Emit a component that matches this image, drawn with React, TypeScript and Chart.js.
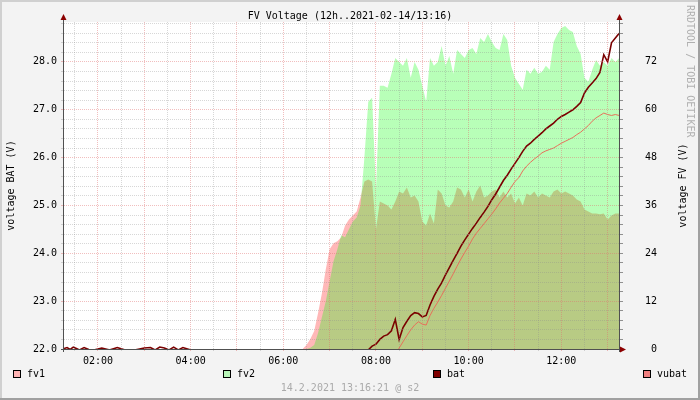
import { useEffect, useRef } from 'react';
import { Chart, registerables } from 'chart.js';

Chart.register(...registerables);

// night-time battery readings (hovering round the 22 V floor)
const nightTimes = [
  '01:16', '01:20', '01:24', '01:28', '01:32', '01:36', '01:42', '01:48', '01:55', '02:05',
  '02:15', '02:25', '02:35', '02:45', '03:00', '03:08', '03:14', '03:20', '03:26', '03:32',
  '03:38', '03:44', '03:50', '04:00', '04:20', '05:00', '05:40', '06:20',
];
const nightBat = [
  22.01, 22.03, 21.99, 22.04, 22.01, 21.98, 22.03, 21.99, 21.98, 22.02,
  21.98, 22.03, 21.98, 21.97, 22.02, 22.03, 21.98, 22.04, 22.02, 21.98,
  22.04, 21.98, 22.03, 21.98, 21.97, 21.96, 21.95, 21.95,
];

// daytime samples, 5 min apart
const times = [
  '06:25', '06:30', '06:35', '06:40', '06:45', '06:50', '06:55',
  '07:00', '07:05', '07:10', '07:15', '07:20', '07:25', '07:30', '07:35', '07:40', '07:45', '07:50', '07:55',
  '08:00', '08:05', '08:10', '08:15', '08:20', '08:25', '08:30', '08:35', '08:40', '08:45', '08:50', '08:55',
  '09:00', '09:05', '09:10', '09:15', '09:20', '09:25', '09:30', '09:35', '09:40', '09:45', '09:50', '09:55',
  '10:00', '10:05', '10:10', '10:15', '10:20', '10:25', '10:30', '10:35', '10:40', '10:45', '10:50', '10:55',
  '11:00', '11:05', '11:10', '11:15', '11:20', '11:25', '11:30', '11:35', '11:40', '11:45', '11:50', '11:55',
  '12:00', '12:05', '12:10', '12:15', '12:20', '12:25', '12:30', '12:35', '12:40', '12:45', '12:50', '12:55',
  '13:00', '13:05', '13:10', '13:15',
];
const fv1 = [
  0, 1, 2.5, 4.5, 9, 14, 20, 25, 26.5, 27, 28, 31, 32.5, 33.5, 34.5, 38, 42, 42.5, 42,
  30, 37, 36.5, 36, 35, 37, 39.5, 39, 40.5, 38, 38.5, 37, 32, 31, 34, 31.5, 40, 39, 36, 35.5,
  37, 40.5, 40, 38, 40, 37, 39.5, 41, 38, 38.5, 39.5, 40, 38, 39.5, 38, 39, 36.5, 38, 36, 39,
  38.5, 39.5, 38, 39, 38.5, 38, 39.5, 40, 39, 39.5, 39, 38.5, 37.5, 37, 35, 34.5, 34, 34, 33.8, 34,
  32.5, 33.5, 34, 34,
];
const fv2 = [
  0, 0, 0.3, 1, 4, 8, 12, 17, 22, 25, 28.5, 28, 30, 32, 33, 36, 48, 62, 63,
  40, 66, 66, 65.5, 69, 73, 72, 71, 73, 68, 72, 70, 66, 62, 73, 71, 72, 76, 71, 73.5,
  69, 75, 74, 73, 75, 75.5, 74, 78, 77, 79, 77, 75.5, 75, 79, 77.5, 71, 68, 66.5, 65, 70,
  69, 70.5, 69, 69.5, 71, 70, 77, 79, 80.5, 81, 80, 79.5, 76, 74, 68, 67, 70, 72.5, 71, 72,
  71, 73, 72, 73,
];
const bat = [
  21.95, 21.95, 21.95, 21.95, 21.95, 21.95, 21.95, 21.95, 21.95, 21.95, 21.95, 21.95, 21.95, 21.95, 21.95, 21.95, 21.95,
  21.98, 22.06, 22.1, 22.2, 22.27, 22.3, 22.38, 22.62, 22.2, 22.45, 22.58, 22.7, 22.76, 22.74, 22.67, 22.7,
  22.92, 23.1, 23.25, 23.38, 23.55, 23.7, 23.85, 24.0,
  24.15, 24.28, 24.4, 24.52, 24.63, 24.75, 24.86, 24.98, 25.12, 25.24,
  25.38, 25.52, 25.63, 25.76, 25.88, 26.0, 26.13, 26.24, 26.3, 26.38,
  26.45, 26.52, 26.6, 26.66, 26.72, 26.8, 26.86, 26.9, 26.95, 27.0,
  27.07, 27.15, 27.35, 27.47, 27.56, 27.65, 27.78, 28.15, 28.0, 28.4,
  28.5, 28.6,
];
const vubat = [
  21.9, 21.9, 21.9, 21.9, 21.9, 21.9, 21.9, 21.9, 21.9, 21.9, 21.9, 21.9, 21.9,
  21.9, 21.9, 21.9, 21.9, 21.9, 21.9, 21.9, 21.9, 21.9, 21.9, 21.9, 21.9,
  22.02, 22.15, 22.28, 22.4, 22.5, 22.57, 22.52, 22.5, 22.7, 22.85,
  22.98, 23.12, 23.27, 23.42, 23.57, 23.73, 23.88, 24.02, 24.15, 24.3,
  24.42, 24.52, 24.62, 24.72, 24.82, 24.93, 25.05, 25.15, 25.25, 25.38,
  25.5, 25.58, 25.72, 25.82, 25.9, 25.97, 26.03, 26.1, 26.14, 26.17,
  26.2, 26.25, 26.3, 26.34, 26.38, 26.42, 26.48, 26.53, 26.6, 26.67,
  26.76, 26.83, 26.88, 26.93, 26.9, 26.88, 26.9, 26.88,
];

const xTickLabels = ['02:00', '04:00', '06:00', '08:00', '10:00', '12:00'];
const yLeftLabels = ['22.0', '23.0', '24.0', '25.0', '26.0', '27.0', '28.0'];
const yRightLabels = ['0', '12', '24', '36', '48', '60', '72'];

const legendItems = [
  { label: 'fv1', color: '#ffb4b4', x: 13 },
  { label: 'fv2', color: '#b8f5b8', x: 223 },
  { label: 'bat', color: '#800000', x: 433 },
  { label: 'vubat', color: '#f08080', x: 643 },
];

const FONT = '10px "DejaVu Sans Mono", monospace';
const MAJOR = 'rgba(225, 110, 110, 0.45)';
const MINOR = 'rgba(140, 140, 140, 0.35)';
const toHours = (t: string) => {
  const [h, m] = t.split(':').map(Number);
  return h + m / 60;
};
const near = (a: number, b: number) => Math.abs(a - b) < 1e-6;

const rrdPlugin = {
  id: 'rrdDecor',
  beforeDraw(chart: Chart) {
    const { ctx, width, height, chartArea: a } = chart;
    ctx.save();
    ctx.fillStyle = '#f3f3f3';
    ctx.fillRect(0, 0, width, height);
    ctx.fillStyle = '#d0d0d0';
    ctx.fillRect(0, 0, width, 2);
    ctx.fillRect(0, 0, 2, height);
    ctx.fillStyle = '#a0a0a0';
    ctx.fillRect(0, height - 2, width, 2);
    ctx.fillRect(width - 2, 0, 2, height);
    ctx.fillStyle = '#ffffff';
    ctx.fillRect(a.left, a.top, a.right - a.left, a.bottom - a.top);
    ctx.restore();
  },
  afterDraw(chart: Chart) {
    const { ctx, chartArea: a } = chart;
    ctx.save();
    // axis lines
    ctx.strokeStyle = '#505050';
    ctx.lineWidth = 1;
    ctx.beginPath();
    ctx.moveTo(a.left - 0.5, 18);
    ctx.lineTo(a.left - 0.5, a.bottom + 3);
    ctx.moveTo(a.right - 0.5, 18);
    ctx.lineTo(a.right - 0.5, a.bottom + 3);
    ctx.moveTo(a.left - 3, a.bottom + 0.5);
    ctx.lineTo(a.right + 3, a.bottom + 0.5);
    ctx.stroke();
    // arrows
    ctx.fillStyle = '#8b0000';
    const tri = (p: number[][]) => {
      ctx.beginPath();
      ctx.moveTo(p[0][0], p[0][1]);
      ctx.lineTo(p[1][0], p[1][1]);
      ctx.lineTo(p[2][0], p[2][1]);
      ctx.closePath();
      ctx.fill();
    };
    tri([[a.left - 0.5, 14], [a.left - 3.5, 20], [a.left + 2.5, 20]]);
    tri([[a.right - 0.5, 14], [a.right - 3.5, 20], [a.right + 2.5, 20]]);
    tri([[a.right + 6, a.bottom + 0.5], [a.right, a.bottom - 2.5], [a.right, a.bottom + 3.5]]);

    ctx.font = FONT;
    ctx.textBaseline = 'middle';
    // title
    ctx.fillStyle = '#000';
    ctx.textAlign = 'center';
    ctx.fillText('FV Voltage (12h..2021-02-14/13:16)', 350, 16);
    // axis titles
    const midY = (a.top + a.bottom) / 2;
    ctx.save();
    ctx.translate(11, midY);
    ctx.rotate(-Math.PI / 2);
    ctx.fillText('voltage BAT (V)', 0, 0);
    ctx.restore();
    ctx.save();
    ctx.translate(683, midY);
    ctx.rotate(-Math.PI / 2);
    ctx.fillText('voltage FV (V)', 0, 0);
    ctx.restore();
    // watermark
    ctx.save();
    ctx.fillStyle = '#b0b0b0';
    ctx.translate(690, 5);
    ctx.rotate(Math.PI / 2);
    ctx.textAlign = 'left';
    ctx.fillText('RRDTOOL / TOBI OETIKER', 0, 0);
    ctx.restore();
    // legend
    ctx.textAlign = 'left';
    legendItems.forEach((it) => {
      ctx.fillStyle = it.color;
      ctx.fillRect(it.x, 370, 8, 8);
      ctx.strokeStyle = '#000';
      ctx.strokeRect(it.x + 0.5, 370.5, 7, 7);
      ctx.fillStyle = '#000';
      ctx.fillText(it.label, it.x + 14, 374);
    });
    // footer
    ctx.fillStyle = '#aaaaaa';
    ctx.textAlign = 'center';
    ctx.fillText('14.2.2021 13:16:21 @ s2', 350, 388);
    ctx.restore();
  },
};

export default function App() {
  const canvasRef = useRef<HTMLCanvasElement>(null);
  const chartRef = useRef<Chart | null>(null);

  useEffect(() => {
    if (!canvasRef.current) return;
    document.body.style.margin = '0';
    if (chartRef.current) chartRef.current.destroy();

    Chart.defaults.font.family = '"DejaVu Sans Mono", monospace';
    Chart.defaults.font.size = 10;

    const xMin = toHours('01:16');
    const xMax = toHours('13:16');
    const yMax = 22 + 82 / 12;

    const xGrid: number[] = [];
    for (let h = 1.5; h <= 13; h += 0.5) xGrid.push(h);
    const yGrid: number[] = [];
    for (let i = 0; i <= 34; i++) yGrid.push(22 + i * 0.2);
    const y2Grid: number[] = [];
    for (let i = 0; i <= 34; i++) y2Grid.push(i * 2.4);

    const pts = (tt: string[], vv: number[]) => tt.map((t, i) => ({ x: toHours(t), y: vv[i] }));
    const isWhole = (v: number) => near(Math.abs(v - Math.round(v)), 0);

    chartRef.current = new Chart(canvasRef.current, {
      type: 'line',
      data: {
        datasets: [
          {
            label: 'fv1',
            data: pts(times, fv1),
            yAxisID: 'y2',
            borderWidth: 0,
            backgroundColor: 'rgba(255, 0, 0, 0.28)',
            fill: 'origin',
            order: 4,
          },
          {
            label: 'fv2',
            data: pts(times, fv2),
            yAxisID: 'y2',
            borderWidth: 0,
            backgroundColor: 'rgba(0, 255, 0, 0.28)',
            fill: 'origin',
            order: 3,
          },
          {
            label: 'vubat',
            data: pts(times, vubat),
            yAxisID: 'y',
            borderColor: '#e8705a',
            borderWidth: 1,
            fill: false,
            order: 2,
          },
          {
            label: 'bat',
            data: [...pts(nightTimes, nightBat), ...pts(times, bat)],
            yAxisID: 'y',
            borderColor: '#7a0000',
            borderWidth: 1.6,
            fill: false,
            order: 1,
          },
        ],
      },
      options: {
        responsive: false,
        animation: false,
        layout: { padding: { top: 22, right: 43, left: 0, bottom: 0 } },
        elements: { point: { radius: 0 }, line: { tension: 0 } },
        plugins: { legend: { display: false }, tooltip: { enabled: false }, title: { display: false } },
        scales: {
          x: {
            type: 'linear',
            min: xMin,
            max: xMax,
            afterBuildTicks: (s: any) => {
              s.ticks = xGrid.map((v) => ({ value: v }));
            },
            afterFit: (s: any) => {
              s.height = 51;
            },
            ticks: {
              autoSkip: false,
              maxRotation: 0,
              padding: 4,
              color: '#000',
              callback: (v: any) => xTickLabels.find((l) => near(toHours(l), Number(v))) ?? '',
            },
            grid: {
              z: 1,
              tickLength: 2,
              color: (c: any) => (c.tick && isWhole(c.tick.value) ? MAJOR : MINOR),
            },
            border: { display: false, dash: [1, 1] },
          },
          y: {
            position: 'left',
            min: 22,
            max: yMax,
            afterBuildTicks: (s: any) => {
              s.ticks = yGrid.map((v) => ({ value: v }));
            },
            afterFit: (s: any) => {
              s.width = 64;
            },
            ticks: {
              autoSkip: false,
              padding: 4,
              color: '#000',
              callback: (v: any) => yLeftLabels.find((l) => near(Number(l), Number(v))) ?? '',
            },
            grid: {
              z: 1,
              tickLength: 3,
              color: (c: any) => (c.tick && isWhole(c.tick.value) ? MAJOR : MINOR),
            },
            border: { display: false, dash: [1, 1] },
          },
          y2: {
            position: 'right',
            min: 0,
            max: 82,
            afterBuildTicks: (s: any) => {
              s.ticks = y2Grid.map((v) => ({ value: v }));
            },
            afterFit: (s: any) => {
              s.width = 37;
            },
            ticks: {
              autoSkip: false,
              crossAlign: 'far',
              padding: 4,
              color: '#000',
              callback: (v: any) => yRightLabels.find((l) => near(Number(l), Number(v))) ?? '',
            },
            grid: { drawOnChartArea: false, tickLength: 3, color: '#909090' },
            border: { display: false },
          },
        },
      },
      plugins: [rrdPlugin],
    } as any);

    return () => {
      chartRef.current?.destroy();
      chartRef.current = null;
    };
  }, []);

  return <canvas ref={canvasRef} width={700} height={400} style={{ display: 'block' }} />;
}
